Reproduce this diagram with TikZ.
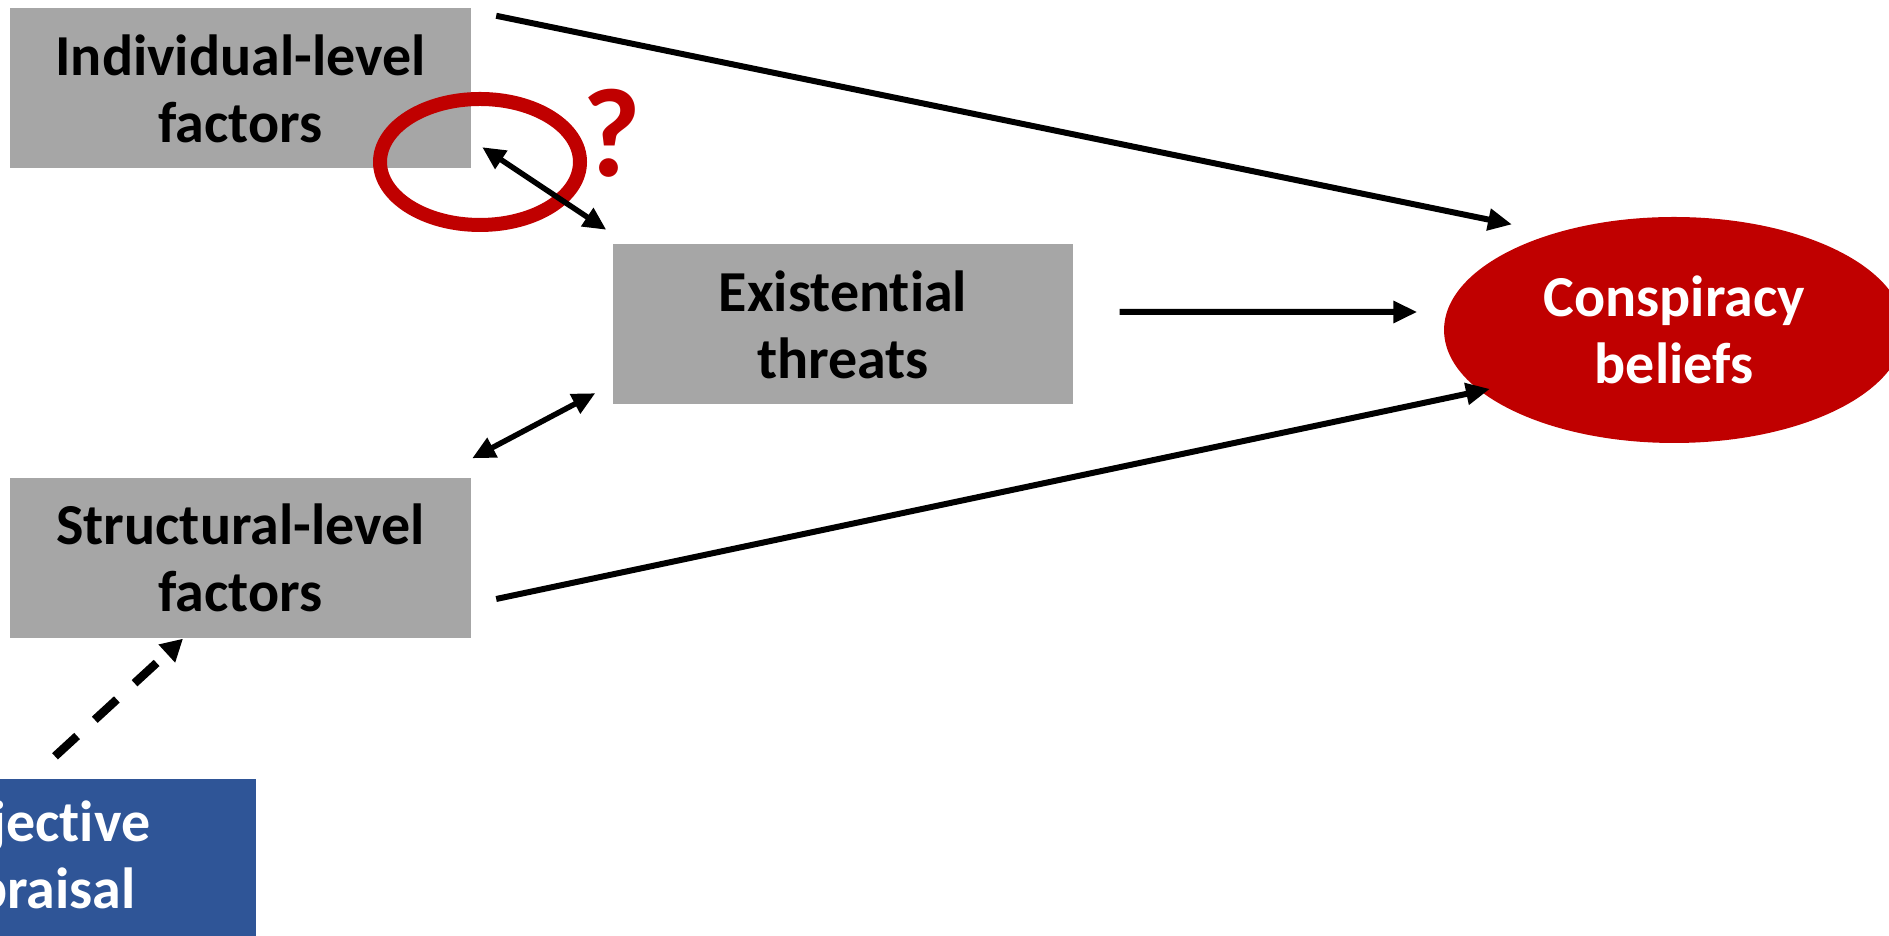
\documentclass[tikz,border=0pt]{standalone}
\usepackage{fontspec}
\setmainfont{Carlito}[Ligatures=NoCommon]
\usetikzlibrary{arrows.meta,shapes.geometric}
\definecolor{boxgray}{HTML}{A6A6A6}
\definecolor{beliefred}{HTML}{C00000}
\definecolor{appraisalblue}{HTML}{2F5597}

\begin{document}
\begin{tikzpicture}[
    factor/.style={fill=boxgray,minimum width=4.6cm,minimum height=1.6cm,align=center,
        font=\bfseries\fontsize{16.5}{19}\selectfont},
    outcome/.style={ellipse,fill=beliefred,text=white,minimum width=4.6cm,minimum height=2.26cm,
        align=center,font=\bfseries\fontsize{16.5}{19}\selectfont},
    appraisal/.style={fill=appraisalblue,text=white,minimum width=4.6cm,minimum height=1.6cm,
        align=center,font=\bfseries\fontsize{16.5}{19}\selectfont},
    path/.style={-{Triangle[length=0.24cm,width=0.21cm]},line width=0.06cm},
    link/.style={{Triangle[length=0.23cm,width=0.21cm]}-{Triangle[length=0.23cm,width=0.21cm]},line width=0.055cm},
    cause/.style={-{Triangle[length=0.22cm,width=0.23cm]},line width=0.085cm,dash pattern=on 0.3cm off 0.24cm}]
        \useasboundingbox (0,0) rectangle (18.89,9.36);
        \clip (0,0) rectangle (18.89,9.36);

        \node[factor] (ind) at (2.405,8.475) {Individual-level\\factors};
        \node[factor] (ext) at (8.43,6.115) {Existential\\threats};
        \node[factor] (str) at (2.405,3.78) {Structural-level\\factors};
        \node[appraisal] (subj) at (0.26,0.77) {Subjective\\appraisal};
        \node[outcome] (cons) at (16.74,6.06) {Conspiracy\\beliefs};

        % open question on the individual link
        \draw[beliefred,line width=0.14cm] (4.80,7.74) ellipse (1.0cm and 0.63cm);
        \node[text=beliefred,font=\bfseries\fontsize{36}{40}\selectfont] (q) at (6.12,8.03) {?};

        \draw[path] ([xshift=2.5mm,yshift=-0.8mm]ind.north east) -- ([xshift=-2.25mm,yshift=1.5mm]cons.147);
        \draw[path] ([xshift=4.6mm,yshift=1.25mm]ext.east) -- ([xshift=-2.6mm,yshift=1.8mm]cons.west);
        \draw[path] ([xshift=2.5mm,yshift=-4.1mm]str.east) -- ([xshift=1.2mm,yshift=0.1mm]cons.197);
        \draw[link] ([xshift=1.1mm,yshift=2.2mm]ind.south east) -- ([xshift=-0.6mm,yshift=1.4mm]ext.north west);
        \draw[link] ([xshift=0.1mm,yshift=1.9mm]str.north east) -- ([xshift=-1.7mm,yshift=1.2mm]ext.south west);
        \draw[cause] ([xshift=2.9mm,yshift=2.2mm]subj.north) -- ([xshift=-5.75mm]str.south);

    \end{tikzpicture}
\end{document}
